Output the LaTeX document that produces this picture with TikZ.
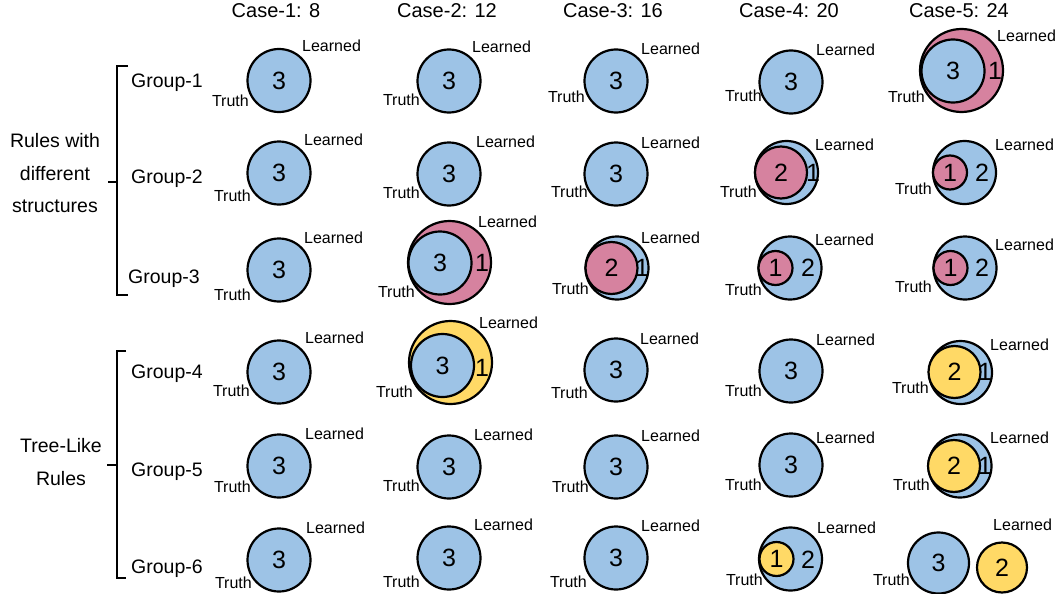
\documentclass[tikz,border=0pt]{standalone}
\usepackage{fontspec}
\setmainfont{Liberation Sans}
\usepackage{tikz}
\usetikzlibrary{positioning}
\definecolor{SkyBlue}{HTML}{9DC3E6}
\definecolor{RosePink}{HTML}{D6829F}
\definecolor{SunYellow}{HTML}{FFD966}

\begin{document}
\begin{tikzpicture}[
    x=1pt, y=-1pt,
    venn/.style={circle, draw=black, line width=2.2pt, inner sep=0pt,
                 minimum size=63pt, font=\fontsize{25}{25}\selectfont},
    wide/.style={venn, minimum size=83pt},
    mid/.style={venn, minimum size=52pt},
    tiny/.style={venn, minimum size=34pt},
    num/.style={inner sep=0pt, font=\fontsize{25}{25}\selectfont},
    lrn/.style={anchor=west, inner sep=0pt, font=\fontsize{16}{16}\selectfont},
    tru/.style={anchor=east, inner sep=0pt, font=\fontsize{16}{16}\selectfont},
    head/.style={anchor=base, inner sep=0pt, font=\fontsize{20}{20}\selectfont},
    grp/.style={anchor=base west, inner sep=0pt, font=\fontsize{19.5}{19.5}\selectfont},
    side/.style={align=center, inner sep=0pt, font=\fontsize{19.5}{32.5}\selectfont},
    brk/.style={line width=2.2pt}
  ]
    \useasboundingbox (0,0) rectangle (1060,594);

    % Column headers
    \node[head] (case1) at (276,18) {Case-1: 8};
    \node[head] (case2) at (447,18) {Case-2: 12};
    \node[head] (case3) at (613,18) {Case-3: 16};
    \node[head] (case4) at (789,18) {Case-4: 20};
    \node[head] (case5) at (959,18) {Case-5: 24};

    % Row labels and brackets
    \node[side] (diff) at (55,173.4) {Rules with\\different\\structures};
    \node[side, font=\fontsize{19.5}{33}\selectfont] (tree) at (61,462.4) {Tree-Like\\Rules};
    \node[grp] (g1) at (131,87)    {Group-1};
    \node[grp] (g2) at (131,183)   {Group-2};
    \node[grp] (g3) at (128,283.5) {Group-3};
    \node[grp] (g4) at (131,378)   {Group-4};
    \node[grp] (g5) at (131,476)   {Group-5};
    \node[grp] (g6) at (131,573)   {Group-6};
    \draw[brk] (128,66) -- (117,66) -- (117,295) -- (128,295);
    \draw[brk] (117,182) -- (108,182);
    \draw[brk] (126,351) -- (117,351) -- (117,578) -- (126,578);
    \draw[brk] (117,465) -- (107,465);

    % Row 1
    \node[venn, fill=SkyBlue] (c11) at (279,80.5) {3};
    \node[lrn] (l11) at (302,46) {Learned};
    \node[tru] (t11) at (249,101) {Truth};
    \node[venn, fill=SkyBlue] (c12) at (449,81) {3};
    \node[lrn] (l12) at (472,47) {Learned};
    \node[tru] (t12) at (420,100) {Truth};
    \node[venn, fill=SkyBlue] (c13) at (616,81) {3};
    \node[lrn] (l13) at (641,49) {Learned};
    \node[tru] (t13) at (585,97) {Truth};
    \node[venn, fill=SkyBlue] (c14) at (791,82) {3};
    \node[lrn] (l14) at (816,50) {Learned};
    \node[tru] (t14) at (762,96) {Truth};
    \node[wide, fill=RosePink] (o15) at (961.5,70.5) {};
    \node[venn, fill=SkyBlue] (c15) at (953,71) {3};
    \node[num] (n15) at (995,71) {1};
    \node[lrn] (l15) at (997,36) {Learned};
    \node[tru] (t15) at (925,97) {Truth};

    % Row 2
    \node[venn, fill=SkyBlue] (c21) at (279,173) {3};
    \node[lrn] (l21) at (304,140) {Learned};
    \node[tru] (t21) at (251,196) {Truth};
    \node[venn, fill=SkyBlue] (c22) at (449,174) {3};
    \node[lrn] (l22) at (476,142) {Learned};
    \node[tru] (t22) at (420,193) {Truth};
    \node[venn, fill=SkyBlue] (c23) at (616,174) {3};
    \node[lrn] (l23) at (641,143) {Learned};
    \node[tru] (t23) at (588,192) {Truth};
    \node[venn, fill=SkyBlue] (o24) at (786.5,172.5) {};
    \node[mid, fill=RosePink] (c24) at (781,172.5) {2};
    \node[num] (n24) at (813,173) {1};
    \node[lrn] (l24) at (815,145) {Learned};
    \node[tru] (t24) at (757,192) {Truth};
    \node[venn, fill=SkyBlue] (o25) at (964.5,172.5) {};
    \node[tiny, fill=RosePink] (c25) at (950,172.5) {1};
    \node[num] (n25) at (982,173) {2};
    \node[lrn] (l25) at (995,145) {Learned};
    \node[tru] (t25) at (932,189) {Truth};

    % Row 3
    \node[venn, fill=SkyBlue] (c31) at (279,270) {3};
    \node[lrn] (l31) at (304,238) {Learned};
    \node[tru] (t31) at (251,295) {Truth};
    \node[wide, fill=RosePink] (o32) at (449.5,262.5) {};
    \node[venn, fill=SkyBlue] (c32) at (440,263) {3};
    \node[num] (n32) at (482,263) {1};
    \node[lrn] (l32) at (478,222) {Learned};
    \node[tru] (t32) at (415,292) {Truth};
    \node[venn, fill=SkyBlue] (o33) at (617,268) {};
    \node[mid, fill=RosePink] (c33) at (611.5,268) {2};
    \node[num] (n33) at (642,268) {1};
    \node[lrn] (l33) at (641,238) {Learned};
    \node[tru] (t33) at (589,289) {Truth};
    \node[venn, fill=SkyBlue] (o34) at (790,268) {};
    \node[tiny, fill=RosePink] (c34) at (775.5,268) {1};
    \node[num] (n34) at (808,268) {2};
    \node[lrn] (l34) at (815,240) {Learned};
    \node[tru] (t34) at (762,290) {Truth};
    \node[venn, fill=SkyBlue] (o35) at (965,268) {};
    \node[tiny, fill=RosePink] (c35) at (950.5,268) {1};
    \node[num] (n35) at (982,268) {2};
    \node[lrn] (l35) at (995,245) {Learned};
    \node[tru] (t35) at (932,287) {Truth};

    % Row 4
    \node[venn, fill=SkyBlue] (c41) at (279,372) {3};
    \node[lrn] (l41) at (305,338) {Learned};
    \node[tru] (t41) at (250,391) {Truth};
    \node[wide, fill=SunYellow] (o42) at (450.5,362.5) {};
    \node[venn, fill=SkyBlue] (c42) at (442.5,365.5) {3};
    \node[num] (n42) at (482,368) {1};
    \node[lrn] (l42) at (479,323) {Learned};
    \node[tru] (t42) at (413,392) {Truth};
    \node[venn, fill=SkyBlue] (c43) at (616,370) {3};
    \node[lrn] (l43) at (640,339) {Learned};
    \node[tru] (t43) at (588,393) {Truth};
    \node[venn, fill=SkyBlue] (c44) at (791,371) {3};
    \node[lrn] (l44) at (816,340) {Learned};
    \node[tru] (t44) at (762,391) {Truth};
    \node[venn, fill=SkyBlue] (o45) at (960.5,372.5) {};
    \node[mid, fill=SunYellow] (c45) at (954.5,372) {2};
    \node[num] (n45) at (985,372) {1};
    \node[lrn] (l45) at (990,345) {Learned};
    \node[tru] (t45) at (929,388) {Truth};

    % Row 5
    \node[venn, fill=SkyBlue] (c51) at (279,466) {3};
    \node[lrn] (l51) at (305,434) {Learned};
    \node[tru] (t51) at (251,487) {Truth};
    \node[venn, fill=SkyBlue] (c52) at (449,467) {3};
    \node[lrn] (l52) at (474,435) {Learned};
    \node[tru] (t52) at (420,486) {Truth};
    \node[venn, fill=SkyBlue] (c53) at (616,467) {3};
    \node[lrn] (l53) at (641,436) {Learned};
    \node[tru] (t53) at (589,487) {Truth};
    \node[venn, fill=SkyBlue] (c54) at (791,465) {3};
    \node[lrn] (l54) at (816,438) {Learned};
    \node[tru] (t54) at (762,485) {Truth};
    \node[venn, fill=SkyBlue] (o55) at (960,466) {};
    \node[mid, fill=SunYellow] (c55) at (954,466) {2};
    \node[num] (n55) at (985,466) {1};
    \node[lrn] (l55) at (990,438) {Learned};
    \node[tru] (t55) at (930,485) {Truth};

    % Row 6
    \node[venn, fill=SkyBlue] (c61) at (279,560) {3};
    \node[lrn] (l61) at (306,528) {Learned};
    \node[tru] (t61) at (252,583) {Truth};
    \node[venn, fill=SkyBlue] (c62) at (449,558) {3};
    \node[lrn] (l62) at (474,525) {Learned};
    \node[tru] (t62) at (420,582) {Truth};
    \node[venn, fill=SkyBlue] (c63) at (616,558) {3};
    \node[lrn] (l63) at (641,526) {Learned};
    \node[tru] (t63) at (587,582) {Truth};
    \node[venn, fill=SkyBlue] (o64) at (790.5,559) {};
    \node[tiny, fill=SunYellow] (c64) at (776.5,559) {1};
    \node[num] (n64) at (808,560) {2};
    \node[lrn] (l64) at (817,528) {Learned};
    \node[tru] (t64) at (763,580) {Truth};
    \node[venn, minimum size=61pt, fill=SkyBlue] (c65) at (938.5,563) {3};
    \node[venn, minimum size=50pt, fill=SunYellow] (o65) at (1002,567.5) {2};
    \node[lrn] (l65) at (993,525) {Learned};
    \node[tru] (t65) at (910,580) {Truth};
\end{tikzpicture}
\end{document}
